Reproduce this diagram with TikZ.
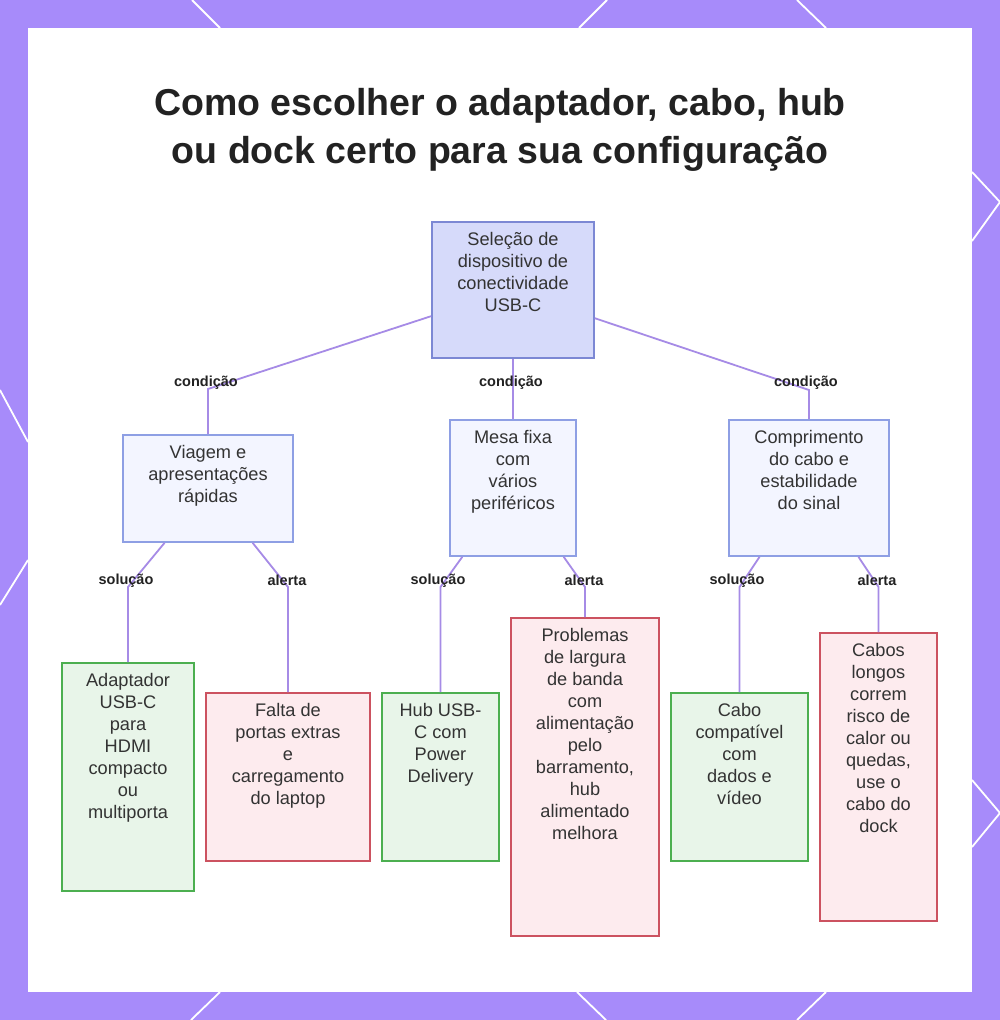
\documentclass[tikz,border=0pt]{standalone}
\usepackage{fontspec}
\setmainfont{Liberation Sans}
\usetikzlibrary{calc}
\definecolor{purp}{HTML}{A78BFA}
\definecolor{edgec}{HTML}{A68BE6}
\definecolor{rootfill}{HTML}{D6DAFA}
\definecolor{rootdraw}{HTML}{7C88D4}
\definecolor{midfill}{HTML}{F3F5FF}
\definecolor{middraw}{HTML}{8E9FE4}
\definecolor{okfill}{HTML}{E8F5E9}
\definecolor{okdraw}{HTML}{4CAF50}
\definecolor{badfill}{HTML}{FDEBEE}
\definecolor{baddraw}{HTML}{CC5260}
\definecolor{textc}{HTML}{333333}
\definecolor{titlec}{HTML}{222222}
\tikzset{
  box/.style={rectangle, inner sep=0pt, line width=1.6pt},
  rootbox/.style={box, fill=rootfill, draw=rootdraw},
  midbox/.style={box, fill=midfill, draw=middraw},
  okbox/.style={box, fill=okfill, draw=okdraw},
  badbox/.style={box, fill=badfill, draw=baddraw},
  boxtext/.style={anchor=north, yshift=-10.5pt, inner sep=0pt, align=center,
    text=textc, font=\fontsize{18.2}{22}\selectfont},
  edge/.style={draw=edgec, line width=1.8pt},
  elabel/.style={inner sep=0pt, text=titlec, font=\bfseries\fontsize{14.5}{16}\selectfont},
  deco/.style={draw=white, line width=1.8pt},
}
\begin{document}
\begin{tikzpicture}[x=1pt,y=-1pt]
\useasboundingbox (0,0) rectangle (1000,1020);
\fill[purp] (0,0) rectangle (1000,1020);
\fill[white] (28,28) rectangle (972,992);
% border decoration
\draw[deco] (192,0) -- (220,28);
\draw[deco] (607,0) -- (579,28);
\draw[deco] (797,0) -- (826,28);
\draw[deco] (972,172) -- (1000,202) -- (972,241);
\draw[deco] (972,780) -- (1000,813) -- (972,847);
\draw[deco] (0,390) -- (28,442);
\draw[deco] (28,560) -- (0,605);
\draw[deco] (220,992) -- (191,1020);
\draw[deco] (577,992) -- (606,1020);
\draw[deco] (826,992) -- (797,1020);

% title
\node[anchor=north, inner sep=0pt, align=center, text=titlec,
  font=\bfseries\fontsize{37.5}{48}\selectfont] (title) at (500,88)
  {Como escolher o adaptador, cabo, hub\\ou dock certo para sua configuração};

% boxes
\node[rootbox, minimum width=162pt, minimum height=136pt,
  label={[boxtext]north:{Seleção de\\dispositivo de\\conectividade\\USB-C}}] (root) at (513,290) {};
\node[midbox, minimum width=170pt, minimum height=107pt,
  label={[boxtext]north:{Viagem e\\apresentações\\rápidas}}] (A) at (208,488.5) {};
\node[midbox, minimum width=126pt, minimum height=136pt,
  label={[boxtext]north:{Mesa fixa\\com\\vários\\periféricos}}] (B) at (513,488) {};
\node[midbox, minimum width=160pt, minimum height=136pt,
  label={[boxtext]north:{Comprimento\\do cabo e\\estabilidade\\do sinal}}] (C) at (809,488) {};

\node[okbox, minimum width=132pt, minimum height=228pt,
  label={[boxtext]north:{Adaptador\\USB-C\\para\\HDMI\\compacto\\ou\\multiporta}}] (L1) at (128,777) {};
\node[badbox, minimum width=164pt, minimum height=168pt,
  label={[boxtext]north:{Falta de\\portas extras\\e\\carregamento\\do laptop}}] (L2) at (288,777) {};
\node[okbox, minimum width=117pt, minimum height=168pt,
  label={[boxtext]north:{Hub USB-\\C com\\Power\\Delivery}}] (L3) at (440.5,777) {};
\node[badbox, minimum width=148pt, minimum height=318pt,
  label={[boxtext]north:{Problemas\\de largura\\de banda\\com\\alimentação\\pelo\\barramento,\\hub\\alimentado\\melhora}}] (L4) at (585,777) {};
\node[okbox, minimum width=137pt, minimum height=168pt,
  label={[boxtext]north:{Cabo\\compatível\\com\\dados e\\vídeo}}] (L5) at (739.5,777) {};
\node[badbox, minimum width=117pt, minimum height=288pt,
  label={[boxtext]north:{Cabos\\longos\\correm\\risco de\\calor ou\\quedas,\\use o\\cabo do\\dock}}] (L6) at (878.5,777) {};

% bend coordinates
\coordinate (bA) at (208,389);
\coordinate (bC) at (809,390);
\coordinate (b1) at (128,587);
\coordinate (b2) at (288,587);
\coordinate (b3) at (440.5,587);
\coordinate (b4) at (585,587);
\coordinate (b5) at (739.5,587);
\coordinate (b6) at (878.5,587);

% edges
\draw[edge] ($(root.north west)!0.69!(root.south west)$) -- (bA) -- (A.north);
\draw[edge] (root.south) -- (B.north);
\draw[edge] ($(root.north east)!0.705!(root.south east)$) -- (bC) -- (C.north);
\draw[edge] ($(A.south west)!0.247!(A.south east)$) -- (b1) -- (L1.north);
\draw[edge] ($(A.south west)!0.76!(A.south east)$) -- (b2) -- (L2.north);
\draw[edge] ($(B.south west)!0.103!(B.south east)$) -- (b3) -- (L3.north);
\draw[edge] ($(B.south west)!0.897!(B.south east)$) -- (b4) -- (L4.north);
\draw[edge] ($(C.south west)!0.194!(C.south east)$) -- (b5) -- (L5.north);
\draw[edge] ($(C.south west)!0.806!(C.south east)$) -- (b6) -- (L6.north);

% edge labels
\node[elabel] (e1) at (206,383) {condição};
\node[elabel] (e2) at (511,383) {condição};
\node[elabel] (e3) at (806,383) {condição};
\node[elabel] (e4) at (126,581) {solução};
\node[elabel] (e5) at (287,580) {alerta};
\node[elabel] (e6) at (438,581) {solução};
\node[elabel] (e7) at (584,580) {alerta};
\node[elabel] (e8) at (737,581) {solução};
\node[elabel] (e9) at (877,580) {alerta};
\end{tikzpicture}
\end{document}
